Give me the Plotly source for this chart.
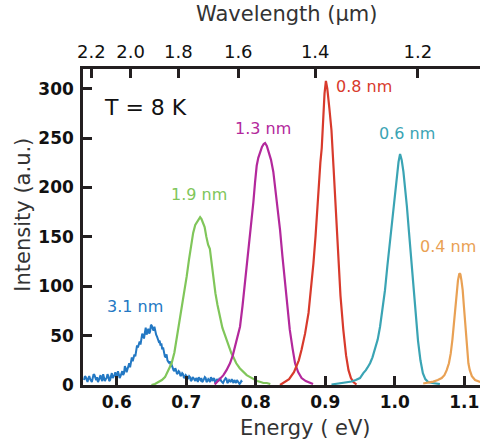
import plotly.graph_objects as go

# ---------------- data ----------------
blue_e = [0.55300, 0.55425, 0.55550, 0.55675, 0.55800, 0.55925, 0.56050, 0.56175, 0.56300, 0.56425,
          0.56550, 0.56675, 0.56800, 0.56925, 0.57050, 0.57175, 0.57300, 0.57425, 0.57550, 0.57675,
          0.57800, 0.57925, 0.58050, 0.58175, 0.58300, 0.58425, 0.58550, 0.58675, 0.58800, 0.58925,
          0.59050, 0.59175, 0.59300, 0.59425, 0.59550, 0.59675, 0.59800, 0.59925, 0.60050, 0.60175,
          0.60300, 0.60425, 0.60550, 0.60675, 0.60800, 0.60925, 0.61050, 0.61175, 0.61300, 0.61425,
          0.61550, 0.61675, 0.61800, 0.61925, 0.62050, 0.62175, 0.62300, 0.62425, 0.62550, 0.62675,
          0.62800, 0.62925, 0.63050, 0.63175, 0.63300, 0.63425, 0.63550, 0.63675, 0.63800, 0.63925,
          0.64050, 0.64175, 0.64300, 0.64425, 0.64550, 0.64675, 0.64800, 0.64925, 0.65050, 0.65175,
          0.65300, 0.65425, 0.65550, 0.65675, 0.65800, 0.65925, 0.66050, 0.66175, 0.66300, 0.66425,
          0.66550, 0.66675, 0.66800, 0.66925, 0.67050, 0.67175, 0.67300, 0.67425, 0.67550, 0.67675,
          0.67800, 0.67925, 0.68050, 0.68175, 0.68300, 0.68425, 0.68550, 0.68675, 0.68800, 0.68925,
          0.69050, 0.69175, 0.69300, 0.69425, 0.69550, 0.69675, 0.69800, 0.69925, 0.70050, 0.70175,
          0.70300, 0.70425, 0.70550, 0.70675, 0.70800, 0.70925, 0.71050, 0.71175, 0.71300, 0.71425,
          0.71550, 0.71675, 0.71800, 0.71925, 0.72050, 0.72175, 0.72300, 0.72425, 0.72550, 0.72675,
          0.72800, 0.72925, 0.73050, 0.73175, 0.73300, 0.73425, 0.73550, 0.73675, 0.73800, 0.73925,
          0.74050, 0.74175, 0.74300, 0.74425, 0.74550, 0.74675, 0.74800, 0.74925, 0.75050, 0.75175,
          0.75300, 0.75425, 0.75550, 0.75675, 0.75800, 0.75925, 0.76050, 0.76175, 0.76300, 0.76425,
          0.76550, 0.76675, 0.76800, 0.76925, 0.77050, 0.77175, 0.77300, 0.77425, 0.77550, 0.77675,
          0.77800, 0.77925, 0.78050]
blue_i = [5, 9, 8, 4, 3, 7, 9, 6, 4, 3,
          7, 11, 10, 6, 5, 8, 3, 5, 8, 10,
          6, 4, 11, 8, 4, 6, 7, 11, 9, 4,
          5, 9, 12, 7, 8, 10, 13, 8, 9, 14,
          11, 7, 9, 12, 14, 10, 12, 19, 17, 13,
          16, 20, 22, 18, 25, 28, 24, 27, 31, 29,
          35, 40, 38, 42, 44, 41, 46, 52, 50, 47,
          53, 58, 51, 55, 57, 52, 54, 61, 60, 57,
          55, 59, 53, 51, 49, 46, 44, 45, 40, 42,
          36, 38, 33, 29, 28, 31, 25, 23, 22, 24,
          19, 20, 17, 15, 14, 17, 15, 11, 12, 14,
          13, 9, 10, 12, 11, 7, 8, 10, 9, 6,
          7, 9, 8, 4, 5, 8, 7, 5, 4, 7,
          6, 3, 8, 6, 5, 7, 3, 4, 6, 8,
          7, 3, 4, 6, 5, 3, 8, 5, 4, 7,
          6, 2, 3, 6, 5, 4, 7, 5, 4, 3,
          2, 4, 5, 7, 6, 2, 3, 5, 4, 3,
          6, 4, 2, 5, 4, 2, 5, 4, 3, 1,
          2, 4, 3]

green_e = [0.650, 0.655, 0.660, 0.665, 0.6695, 0.674, 0.679, 0.683, 0.686, 0.690,
           0.6935, 0.697, 0.7007, 0.704, 0.707, 0.710, 0.713, 0.716, 0.718, 0.720,
           0.722, 0.724, 0.7265, 0.729, 0.7315, 0.734, 0.7365, 0.739, 0.742, 0.745,
           0.7486, 0.752, 0.755, 0.758, 0.762, 0.765, 0.768, 0.772, 0.777, 0.782,
           0.787, 0.792, 0.797, 0.802, 0.807, 0.811, 0.816, 0.821]
green_i = [0, 1, 3, 5, 8, 14, 22, 33, 46, 60,
           76, 93, 110, 127, 141, 154, 162, 166, 168, 170,
           168, 165, 160, 150, 142, 138, 124, 107, 93, 81,
           69, 58, 52, 46, 37, 32, 28, 22, 17, 13,
           10, 8, 6, 4, 3, 2, 2, 1]

magenta_e = [0.741, 0.744, 0.7485, 0.7535, 0.758, 0.763, 0.767, 0.770, 0.7735, 0.7774,
             0.781, 0.7846, 0.788, 0.7918, 0.7945, 0.7966, 0.799, 0.8014, 0.8037, 0.806,
             0.809, 0.8115, 0.8135, 0.816, 0.819, 0.822, 0.8253, 0.828, 0.8315, 0.835,
             0.8385, 0.842, 0.8455, 0.849, 0.853, 0.8566, 0.861, 0.866, 0.872, 0.8775,
             0.8825]
magenta_i = [0.5, 3, 6, 10, 15, 22, 30, 39, 48, 59,
             80, 103, 127, 152, 170, 185, 205, 222, 230, 236,
             241, 244, 245, 242, 236, 228, 216, 200, 180, 157,
             130, 106, 80, 56, 37, 22, 13, 7, 4, 2,
             1]

red_e = [0.835, 0.840, 0.848, 0.855, 0.862, 0.866, 0.871, 0.876, 0.880, 0.883,
         0.886, 0.888, 0.891, 0.893, 0.895, 0.897, 0.899, 0.901, 0.903, 0.906,
         0.909, 0.912, 0.914, 0.9165, 0.919, 0.922, 0.926, 0.930, 0.9335, 0.937,
         0.9405, 0.945]
red_i = [0, 2, 6, 13, 25, 36, 52, 73, 98, 123,
         150, 174, 205, 225, 240, 270, 295, 308, 300, 280,
         258, 220, 191, 157, 123, 90, 56, 30, 15, 7,
         3, 0.5]

teal_e = [0.909, 0.915, 0.921, 0.926, 0.932, 0.938, 0.944, 0.950, 0.9548, 0.9585,
          0.962, 0.9645, 0.968, 0.9717, 0.9755, 0.9789, 0.9825, 0.986, 0.9895, 0.9932,
          0.997, 1.0005, 1.003, 1.0055, 1.0077, 1.010, 1.0125, 1.015, 1.0175, 1.0205,
          1.0245, 1.0275, 1.031, 1.0335, 1.037, 1.0405, 1.044, 1.048, 1.054, 1.060,
          1.065]
teal_i = [0.5, 1, 1.5, 2, 2.5, 3.5, 5, 7, 12, 15,
          19, 22, 28, 36, 46, 59, 76, 96, 121, 147,
          173, 198, 213, 226, 234, 228, 216, 200, 181, 155,
          120, 96, 68, 45, 25, 12, 6, 3, 2, 1.5,
          1]

orange_e = [1.041, 1.047, 1.0556, 1.062, 1.0676, 1.0715, 1.0748, 1.078, 1.0806, 1.083,
            1.0853, 1.0875, 1.089, 1.091, 1.093, 1.0945, 1.096, 1.0978, 1.0995, 1.1011,
            1.103, 1.1045, 1.106, 1.108, 1.111, 1.1156, 1.120, 1.123]
orange_i = [1.5, 2, 3.4, 5, 7, 10, 15, 22, 32, 46,
            63, 82, 96, 106, 113, 112, 106, 96, 80, 63,
            46, 32, 22, 15, 9, 5, 3.5, 3]

series_names = ["3.1 nm", "1.9 nm", "1.3 nm", "0.8 nm", "0.6 nm", "0.4 nm"]
series_colors = ["#2378c3", "#80c65a", "#b3289c", "#d83a2c", "#3aa4b4", "#e9a154"]
label_e = [0.627, 0.719, 0.8105, 0.956, 1.0177, 1.077]
label_i = [79.4, 193.4, 259.3, 302.5, 254.6, 140.3]

bottom_ticks = [0.6, 0.7, 0.8, 0.9, 1.0, 1.1]
bottom_ticktext = ["0.6", "0.7", "0.8", "0.9", "1.0", "1.1"]
left_ticks = [0, 50, 100, 150, 200, 250, 300]
wavelength_ticks = [2.2, 2.0, 1.8, 1.6, 1.4, 1.2]   # micrometres
HC = 1.2398  # eV*um, conversion for top axis

x_range = [0.5515, 1.1227]
y_range = [0, 320]

# ---------------- figure ----------------
AX = "#231f20"
FONT = "DejaVu Sans"

fig = go.Figure()
xs = [blue_e, green_e, magenta_e, red_e, teal_e, orange_e]
ys = [blue_i, green_i, magenta_i, red_i, teal_i, orange_i]
widths = [2.0, 2.2, 2.2, 2.2, 2.2, 2.2]
for x, y, c, n, w in zip(xs, ys, series_colors, series_names, widths):
    fig.add_trace(go.Scatter(x=x, y=y, mode="lines", name=n,
                             line=dict(color=c, width=w), showlegend=False))

# invisible trace for the top (wavelength) axis
fig.add_trace(go.Scatter(x=x_range, y=[None, None], xaxis="x2", mode="lines",
                         showlegend=False, hoverinfo="skip"))

for n, c, xe, yi in zip(series_names, series_colors, label_e, label_i):
    fig.add_annotation(x=xe, y=yi, text=n, showarrow=False,
                       xanchor="center", yanchor="middle",
                       font=dict(family=FONT, size=16, color=c))

fig.add_annotation(x=0.642, y=280.6, text="T = 8 K", showarrow=False,
                   xanchor="center", yanchor="middle",
                   font=dict(family=FONT, size=22, color="#111111"))

# axis titles as annotations (placed like the reference)
fig.add_annotation(xref="paper", yref="paper", x=0.5595, y=-0.136,
                   xanchor="center", yanchor="middle",
                   text="Energy ( eV)", showarrow=False,
                   font=dict(family=FONT, size=21, color="#333333"))
fig.add_annotation(xref="paper", yref="paper", x=0.5135, y=1.175,
                   xanchor="center", yanchor="middle",
                   text="Wavelength (µm)", showarrow=False,
                   font=dict(family=FONT, size=21, color="#333333"))
fig.add_annotation(xref="paper", yref="paper", x=-0.1515, y=0.5385,
                   xanchor="center", yanchor="middle",
                   text="Intensity (a.u.)", showarrow=False, textangle=-90,
                   font=dict(family=FONT, size=21, color="#333333"))

fig.update_layout(
    width=480, height=440,
    margin=dict(l=83, r=0, t=69, b=55),
    paper_bgcolor="white", plot_bgcolor="white",
    xaxis=dict(range=x_range, showgrid=False, zeroline=False,
               showline=True, linecolor=AX, linewidth=2.5,
               ticks="inside", ticklen=9, tickwidth=2.5, tickcolor=AX,
               tickvals=bottom_ticks, ticktext=bottom_ticktext,
               tickfont=dict(family=FONT, size=17, color="#111111", weight="bold"),
               ticklabelstandoff=0, ticklabeloverflow="allow"),
    xaxis2=dict(range=x_range, overlaying="x", side="top", anchor="y",
                showgrid=False, zeroline=False,
                showline=True, linecolor=AX, linewidth=2.5,
                ticks="inside", ticklen=9, tickwidth=2.5, tickcolor=AX,
                tickvals=[HC / w for w in wavelength_ticks],
                ticktext=[f"{w:.1f}" for w in wavelength_ticks],
                tickfont=dict(family=FONT, size=18, color="#111111"),
                ticklabelstandoff=1, ticklabeloverflow="allow"),
    yaxis=dict(range=y_range, showgrid=False, zeroline=False,
               showline=True, linecolor=AX, linewidth=2.5,
               ticks="inside", ticklen=9, tickwidth=2.5, tickcolor=AX,
               tickvals=left_ticks,
               tickfont=dict(family=FONT, size=17, color="#111111", weight="bold"),
               ticklabelstandoff=3),
)

fig.write_html("out.html")
